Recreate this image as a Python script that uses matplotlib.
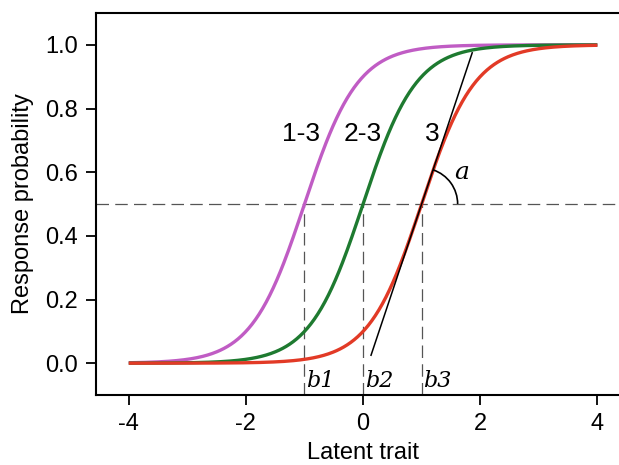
import numpy as np
import matplotlib.pyplot as plt
from matplotlib.patches import Arc

# item parameters
difficulties = [-1.0, 0.0, 1.0]
discrimination = 2.2
curve_labels = ["1-3", "2-3", "3"]
curve_colors = ["#C05CC4", "#1E7A30", "#E23A26"]
b_labels = ["b1", "b2", "b3"]
label_x = [-1.06, 0.0, 1.18]
label_y = 0.72
theta_range = [-4.0, 4.0]
yticks = [0.0, 0.2, 0.4, 0.6, 0.8, 1.0]
xticks = [-4, -2, 0, 2, 4]

plt.rcParams["font.family"] = ["Liberation Sans", "DejaVu Sans"]
plt.rcParams["axes.unicode_minus"] = False

fig = plt.figure(figsize=(6.19, 4.65), dpi=100)
# right edge of the box runs past the canvas, as in the reference
ax = fig.add_axes([0.155, 0.1505, 0.863, 0.8215])
x0, x1 = -4.56, 4.56
y0, y1 = -0.1, 1.1

theta = np.linspace(theta_range[0], theta_range[1], 400)
for b, col in zip(difficulties, curve_colors):
    p = 1.0 / (1.0 + np.exp(-discrimination * (theta - b)))
    ax.plot(theta, p, color=col, lw=2.4, solid_capstyle="butt", zorder=3)

# reference lines
dash = dict(color="#555555", lw=0.9, dashes=(10, 5))
ax.axhline(0.5, **dash, zorder=1)
for b, lab in zip(difficulties, b_labels):
    ax.plot([b, b], [y0, 0.5], **dash, zorder=1)
    ax.text(b + 0.03, -0.055, lab, family="DejaVu Serif", style="italic",
            fontsize=16, ha="left", va="center")

# tangent at the last item's difficulty
b3 = difficulties[-1]
slope = discrimination / 4
half = 0.475 / slope
ax.plot([b3 - half, b3 + half], [0.5 - 0.475, 0.5 + 0.475], color="black", lw=1.1, zorder=4)

# angle arc, circular on screen
px_per_x = ax.get_window_extent().width / (x1 - x0)
px_per_y = ax.get_window_extent().height / (y1 - y0)
r_x = 0.615
ang = np.degrees(np.arctan(slope))
arc = Arc((b3, 0.5), 2 * r_x, 2 * r_x * px_per_x / px_per_y,
          theta1=0, theta2=ang, color="black", lw=1.2, zorder=4)
ax.add_patch(arc)
ax.text(1.69, 0.60, "a", family="DejaVu Serif", style="italic", fontsize=18,
        ha="center", va="center")

for lx, lab in zip(label_x, curve_labels):
    ax.text(lx, label_y, lab, fontsize=19, ha="center", va="center")

ax.set_xlim(x0, x1)
ax.set_ylim(y0, y1)
ax.set_xticks(xticks)
ax.set_yticks(yticks)
ax.set_yticklabels([f"{v:.1f}" for v in yticks])
ax.tick_params(axis="both", direction="out", length=7, width=1.3, labelsize=17, pad=6)
for s in ax.spines.values():
    s.set_linewidth(1.5)
ax.spines["right"].set_visible(False)

ax.set_xlabel("Latent trait", fontsize=17, labelpad=5)
ax.set_ylabel("Response probability", fontsize=17, labelpad=8)

fig.savefig("out.png", dpi=100)
